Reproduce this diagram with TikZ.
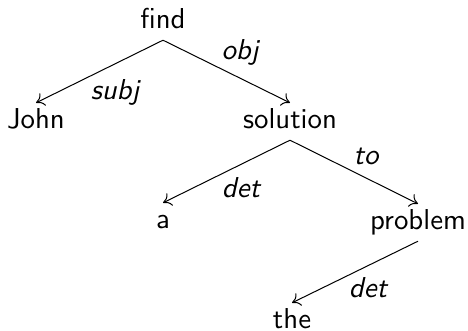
\documentclass[tikz,border=0pt]{standalone}
\usepackage{fontspec}
\newfontfamily\lmsten{lmsans10-regular.otf}
\newfontfamily\lmsobl{lmsans10-oblique.otf}
\usetikzlibrary{arrows.meta}
\begin{document}
\begin{tikzpicture}[x=1pt,y=-1pt,
  every node/.style={font=\lmsten\fontsize{28.8}{34}\selectfont},
  word/.style={anchor=base,text height=18pt,text depth=5pt,inner xsep=0pt,inner ysep=7pt},
  rel/.style={anchor=base,font=\lmsobl\fontsize{28.8}{34}\selectfont,inner sep=0pt},
  dep/.style={line width=1pt,-{To[length=8pt,width=14pt]}}]
\useasboundingbox (0,0) rectangle (468,330);
\node[word] (find) at (163,28) {find};
\node[word] (john) at (36,128) {John};
\node[word] (solution) at (290,128) {solution};
\node[word] (a) at (163,228) {a};
\node[word] (problem) at (418,229) {problem};
\node[word] (the) at (292,328) {the};
\draw[dep] (find.south) -- (john.north);
\draw[dep] (find.south) -- (solution.north);
\draw[dep] (solution.south) -- (a.north);
\draw[dep] (solution.south) -- (problem.north);
\draw[dep] (problem.south) -- (the.north);
\node[rel] (lsubj) at (115,99) {subj};
\node[rel] (lobj) at (240,59) {obj};
\node[rel] (ldet1) at (241,197) {det};
\node[rel] (lto) at (366,164) {to};
\node[rel] (ldet2) at (368,297) {det};
\end{tikzpicture}
\end{document}
